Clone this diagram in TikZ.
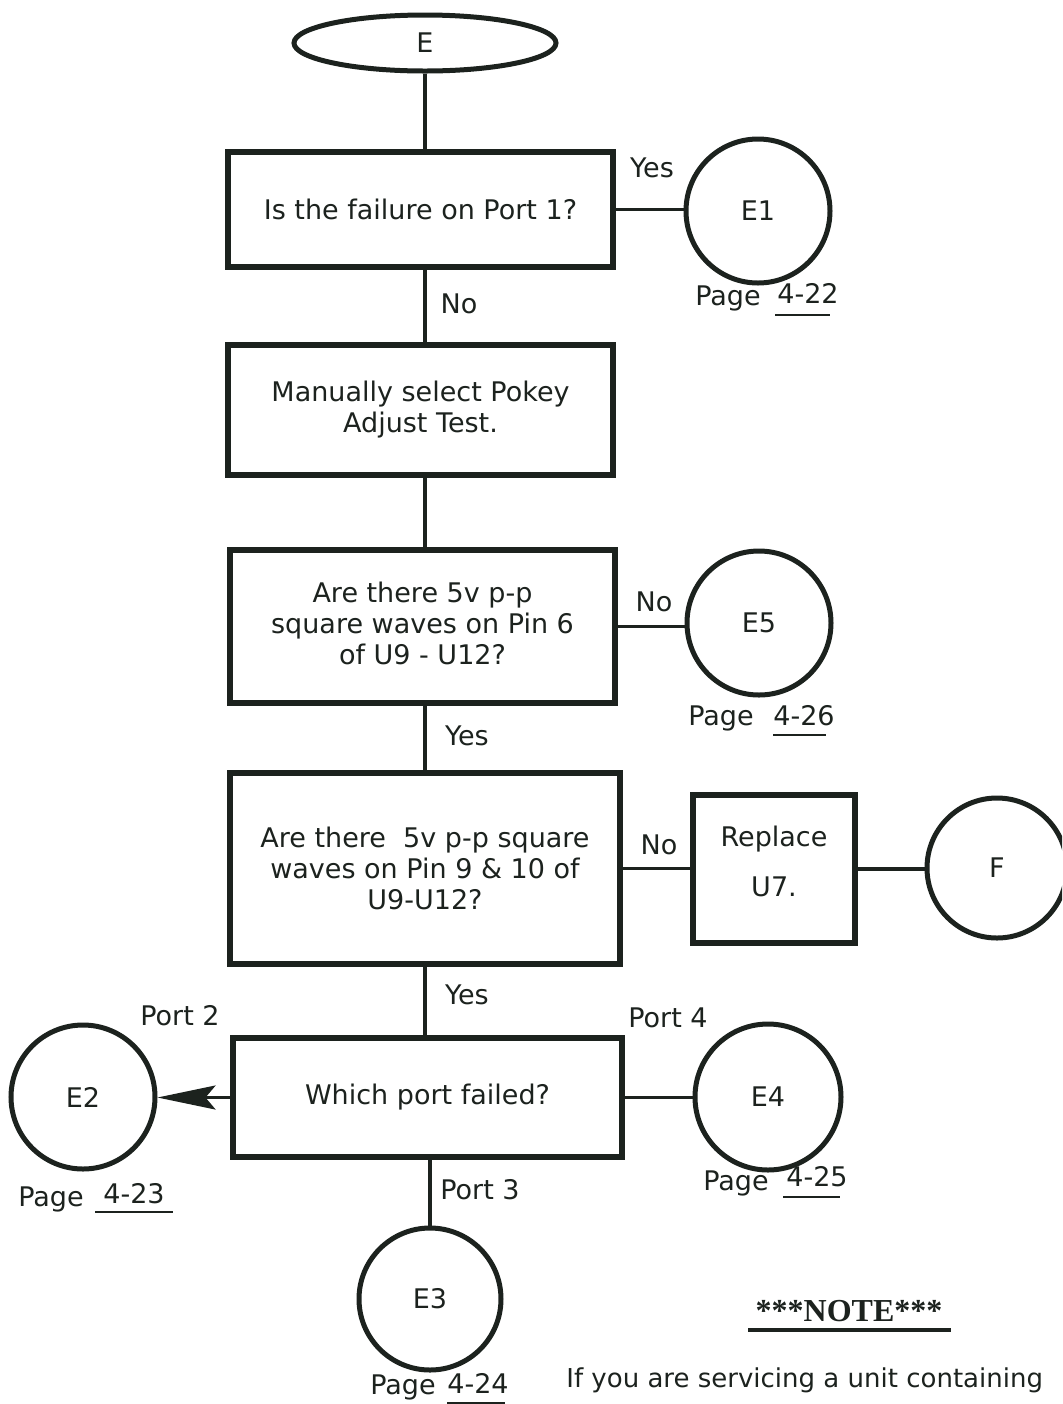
\documentclass[tikz,border=0pt]{standalone}
\usepackage{fontspec}
\setmainfont{DejaVu Sans}
\newfontfamily\notefont{Liberation Serif}
\usetikzlibrary{shapes.geometric,arrows.meta}
\definecolor{ink}{HTML}{1C221E}
\begin{document}
\begin{tikzpicture}[x=0.5pt,y=-0.5pt,
  ink/.style={draw=ink,text=ink},
  box/.style={ink,rectangle,line width=3pt,align=center,inner sep=2pt,
    font=\fontsize{13.5}{15.5}\selectfont},
  term/.style={ink,circle,line width=2.5pt,minimum size=72pt,inner sep=0pt,
    font=\fontsize{13.5}{16}\selectfont},
  conn/.style={draw=ink,line width=1.6pt},
  lbl/.style={text=ink,font=\fontsize{13.5}{16}\selectfont,inner sep=0pt},
  uline/.style={draw=ink,line width=1.2pt}]
\useasboundingbox (0,0) rectangle (1062,1404);
\begin{scope}
\clip (0,0) rectangle (1062,1404);
% start
\node[ink,ellipse,line width=2.5pt,minimum width=131pt,minimum height=28pt,
  font=\fontsize{13.5}{16}\selectfont] (E) at (425,43) {E};
% boxes
\node[box,minimum width=192.5pt,minimum height=57.5pt] (b1) at (420.5,209.5) {Is the failure on Port 1?};
\node[box,minimum width=192.5pt,minimum height=65pt] (b2) at (420.5,410) {Manually select Pokey\\Adjust Test.};
\node[box,minimum width=192.5pt,minimum height=76.5pt,text depth=3pt] (b3) at (422.5,626.5) {Are there 5v p-p\\square waves on Pin 6\\of U9 - U12?};
\node[box,minimum width=195pt,minimum height=95.5pt] (b4) at (425,868.5) {Are there\ \ 5v p-p square\\waves on Pin 9 \& 10 of\\U9-U12?};
\node[box,minimum width=81pt,minimum height=74pt,font=\fontsize{13.5}{25}\selectfont,text depth=8pt] (b5) at (774,869) {Replace\\U7.};
\node[box,minimum width=194.5pt,minimum height=59.5pt] (b6) at (427.5,1097.5) {Which port failed?};
% terminals
\node[term] (E1) at (758,211) {E1};
\node[term] (E5) at (759,623) {E5};
\node[term,minimum size=70pt] (F) at (997,868) {F};
\node[term] (E2) at (83,1097) {E2};
\node[term,minimum size=73pt] (E4) at (768,1097) {E4};
\node[term,minimum size=71pt] (E3) at (430,1299) {E3};
% connectors
\draw[conn] (E.south) -- (E.south |- b1.north);
\draw[conn] (b1.south -| E.south) -- (E.south |- b2.north);
\draw[conn] (b2.south -| E.south) -- (E.south |- b3.north);
\draw[conn] (b3.south -| E.south) -- (E.south |- b4.north);
\draw[conn] (b4.south -| E.south) -- (E.south |- b6.north);
\draw[conn] (b6.south -| E3.north) -- (E3.north);
\draw[conn] (b1.east) -- (b1.east -| E1.west);
\draw[conn] (b3.east) -- (b3.east -| E5.west);
\draw[conn] (b4.east) -- (b4.east -| b5.west);
\draw[conn] (b5.east) -- (b5.east -| F.west);
\draw[conn] (b6.east) -- (b6.east -| E4.west);
\draw[conn,-{Stealth[length=29pt,width=12pt,inset=5pt]}] (b6.west) -- (b6.west -| E2.east);
% branch labels
\node[lbl] (lyes1) at (652,168) {Yes};
\node[lbl] (lno1) at (459,304) {No};
\node[lbl] (lno2) at (654,602) {No};
\node[lbl] (lyes2) at (467,736) {Yes};
\node[lbl] (lno3) at (659,845) {No};
\node[lbl] (lyes3) at (467,995) {Yes};
\node[lbl] (lp2) at (180,1016) {Port 2};
\node[lbl] (lp4) at (668,1018) {Port 4};
\node[lbl] (lp3) at (480,1190) {Port 3};
% page references
\node[lbl] (pg1) at (728,298) {Page};
\node[lbl] (pn1) at (808,293) {4-22};
\draw[uline] (775,315) -- (830,315);
\node[lbl] (pg5) at (721,718) {Page};
\node[lbl] (pn5) at (804,716) {4-26};
\draw[uline] (773,735) -- (826,735);
\node[lbl] (pg2) at (51,1199) {Page};
\node[lbl] (pn2) at (134,1194) {4-23};
\draw[uline] (95,1212) -- (173,1212);
\node[lbl] (pg4) at (736,1183) {Page};
\node[lbl] (pn4) at (817,1177) {4-25};
\draw[uline] (783,1197) -- (840,1197);
\node[lbl] (pg3) at (403,1387) {Page};
\node[lbl] (pn3) at (478,1383) {4-24};
\draw[uline] (447,1403) -- (505,1403);
% note
\node[text=ink,font=\notefont\fontsize{16}{18}\bfseries\selectfont,inner sep=0pt] (note) at (849,1311) {***NOTE***};
\draw[draw=ink,line width=1.8pt] (748,1330) -- (951,1330);
\node[lbl,anchor=west,font=\fontsize{13}{16}\selectfont] (notetxt) at (566,1380) {If you are servicing a unit containing};
\end{scope}
\end{tikzpicture}
\end{document}
